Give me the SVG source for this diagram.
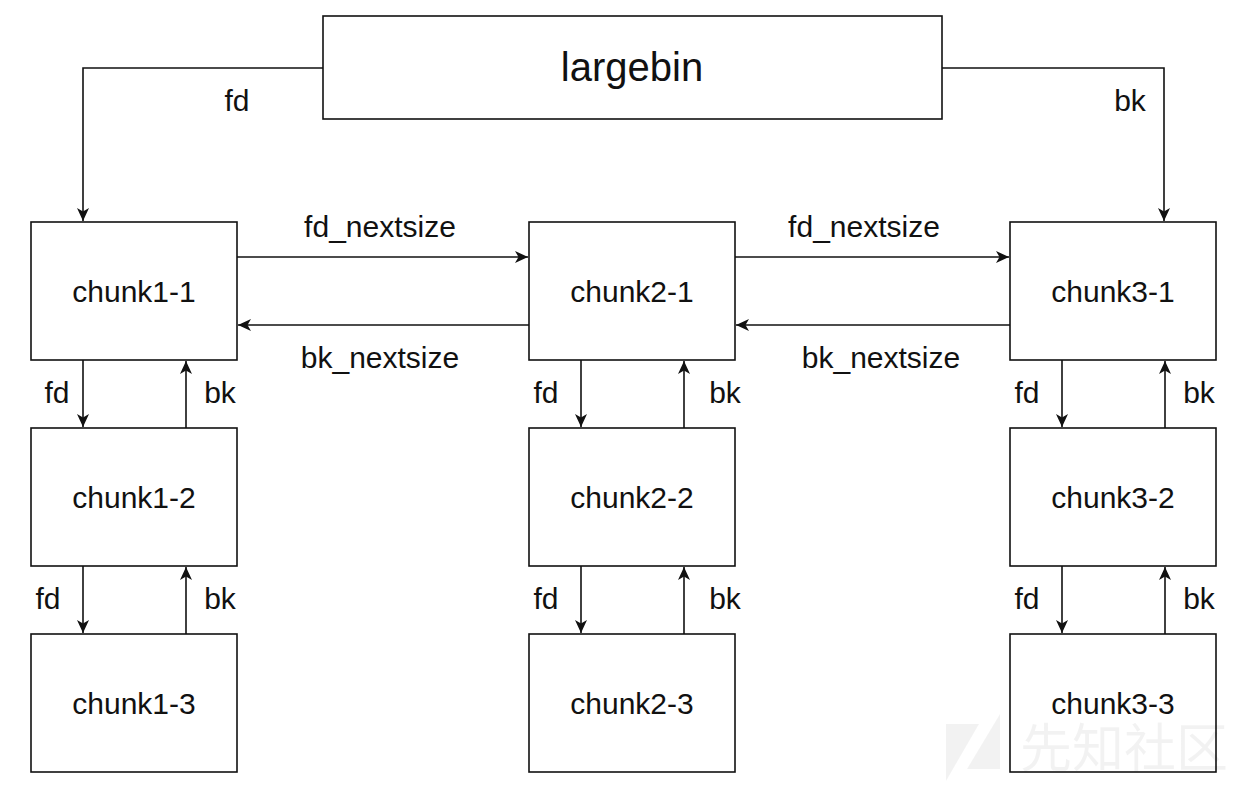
<svg xmlns="http://www.w3.org/2000/svg" width="1251" height="786" viewBox="0 0 1251 786">
<style>
.box{fill:#fff;stroke:#111;stroke-width:1.6}
.t{font-family:"Liberation Sans",Arial,sans-serif;font-size:30px;fill:#111;text-anchor:middle}
.big{font-size:40px}
.ln{fill:none;stroke:#111;stroke-width:1.6;marker-end:url(#arr)}
.wm{fill:#000;fill-opacity:0.05}
</style>
<defs>
<marker id="arr" markerUnits="userSpaceOnUse" markerWidth="14" markerHeight="14" viewBox="0 0 14 14" refX="13" refY="7" orient="auto">
<path d="M0,1 L13,7 L0,13 L3.5,7 z" fill="#111"/>
</marker>
</defs>
<rect width="1251" height="786" fill="#fff"/>
<g id="connectors">
<path class="ln" d="M323,68 H83 V221"/>
<path class="ln" d="M942,68 H1164 V221"/>
<path class="ln" d="M237,257 H528"/>
<path class="ln" d="M529,325 H238"/>
<path class="ln" d="M735,257 H1009"/>
<path class="ln" d="M1010,325 H736"/>
<path class="ln" d="M83,360 V427"/>
<path class="ln" d="M186,428 V361"/>
<path class="ln" d="M83,566 V633"/>
<path class="ln" d="M186,634 V567"/>
<path class="ln" d="M581,360 V427"/>
<path class="ln" d="M684,428 V361"/>
<path class="ln" d="M581,566 V633"/>
<path class="ln" d="M684,634 V567"/>
<path class="ln" d="M1062,360 V427"/>
<path class="ln" d="M1165,428 V361"/>
<path class="ln" d="M1062,566 V633"/>
<path class="ln" d="M1165,634 V567"/>
<text class="t" x="237" y="111">fd</text>
<text class="t" x="1130" y="111">bk</text>
<text class="t" x="380" y="237">fd_nextsize</text>
<text class="t" x="864" y="237">fd_nextsize</text>
<text class="t" x="380" y="368">bk_nextsize</text>
<text class="t" x="881" y="368">bk_nextsize</text>
<text class="t" x="57" y="403">fd</text>
<text class="t" x="220" y="403">bk</text>
<text class="t" x="48" y="609">fd</text>
<text class="t" x="220" y="609">bk</text>
<text class="t" x="546" y="403">fd</text>
<text class="t" x="725" y="403">bk</text>
<text class="t" x="546" y="609">fd</text>
<text class="t" x="725" y="609">bk</text>
<text class="t" x="1027" y="403">fd</text>
<text class="t" x="1199" y="403">bk</text>
<text class="t" x="1027" y="609">fd</text>
<text class="t" x="1199" y="609">bk</text>
</g>
<g id="largebin"><rect class="box" x="323" y="16" width="619" height="103"/><text class="t big" x="632" y="81">largebin</text></g>
<g id="chunk1-1"><rect class="box" x="31" y="222" width="206" height="138"/><text class="t" x="134" y="302">chunk1-1</text></g>
<g id="chunk1-2"><rect class="box" x="31" y="428" width="206" height="138"/><text class="t" x="134" y="508">chunk1-2</text></g>
<g id="chunk1-3"><rect class="box" x="31" y="634" width="206" height="138"/><text class="t" x="134" y="714">chunk1-3</text></g>
<g id="chunk2-1"><rect class="box" x="529" y="222" width="206" height="138"/><text class="t" x="632" y="302">chunk2-1</text></g>
<g id="chunk2-2"><rect class="box" x="529" y="428" width="206" height="138"/><text class="t" x="632" y="508">chunk2-2</text></g>
<g id="chunk2-3"><rect class="box" x="529" y="634" width="206" height="138"/><text class="t" x="632" y="714">chunk2-3</text></g>
<g id="chunk3-1"><rect class="box" x="1010" y="222" width="206" height="138"/><text class="t" x="1113" y="302">chunk3-1</text></g>
<g id="chunk3-2"><rect class="box" x="1010" y="428" width="206" height="138"/><text class="t" x="1113" y="508">chunk3-2</text></g>
<g id="chunk3-3"><rect class="box" x="1010" y="634" width="206" height="138"/><text class="t" x="1113" y="714">chunk3-3</text></g>
<g id="watermark">
<polygon class="wm" points="946,724 979,724 946,781"/>
<polygon class="wm" points="1000,714 1000,769 967,769"/>
<text class="wm" x="1124" y="767" font-family="'Noto Sans CJK SC',sans-serif" font-size="52" text-anchor="middle">先知社区</text>
</g>
</svg>
